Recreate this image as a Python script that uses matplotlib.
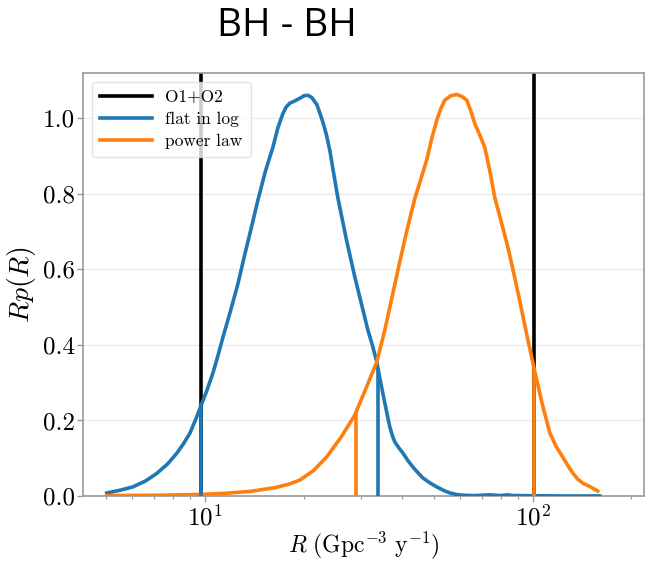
import numpy as np
import matplotlib
matplotlib.use("Agg")
import matplotlib.pyplot as plt

plt.rcParams['font.family'] = 'serif'
plt.rcParams['font.serif'] = ['cmr10', 'DejaVu Serif']
plt.rcParams['mathtext.fontset'] = 'cm'
plt.rcParams['axes.formatter.use_mathtext'] = True

# flat in log (blue)
R_flat = [5.02, 5.5, 6.03, 6.6, 7.14, 7.7, 8.21, 8.6, 9.0, 9.35, 9.7, 10.1, 10.58,
          10.95, 11.35, 11.92, 12.6, 13.24, 13.9, 14.51, 15.3, 16.12, 16.7, 17.29,
          17.7, 18.16, 18.8, 19.48, 20.1, 20.61, 21.2, 21.96, 22.4, 22.9, 23.5,
          24.05, 24.7, 25.44, 27.0, 28.66, 30.0, 31.4, 32.4, 33.45, 34.2, 34.89,
          35.8, 36.64, 37.3, 37.96, 39.0, 40.15, 41.5, 43.06, 44.6, 46.19, 48.5,
          50.98, 53.4, 55.85, 58.5, 61.2, 66.5, 70.0, 73.9, 79.3, 83.9, 87.0,
          91.2, 120.8, 160.0]
p_flat = [0.008, 0.015, 0.024, 0.04, 0.06, 0.085, 0.113, 0.138, 0.166, 0.2, 0.236,
          0.275, 0.325, 0.37, 0.42, 0.484, 0.56, 0.64, 0.715, 0.783, 0.86, 0.923,
          0.975, 1.012, 1.03, 1.04, 1.046, 1.053, 1.06, 1.061, 1.055, 1.036, 1.015,
          0.99, 0.955, 0.915, 0.855, 0.79, 0.68, 0.58, 0.51, 0.44, 0.40, 0.355,
          0.31, 0.272, 0.225, 0.183, 0.16, 0.143, 0.128, 0.114, 0.095, 0.077, 0.062,
          0.048, 0.035, 0.024, 0.015, 0.008, 0.004, 0.002, 0.001, 0.002, 0.003,
          0.001, 0.003, 0.001, 0.001, 0.0, 0.0]

# power law (orange)
R_pow = [5.02, 7.29, 9.65, 11.5, 13.7, 16.35, 18.0, 19.48, 21.5, 23.5, 26.0, 28.66,
         31.0, 33.45, 35.4, 37.3, 39.3, 41.5, 43.7, 45.6, 47.5, 49.3, 50.98, 52.4,
         53.9, 56.3, 58.7, 60.8, 62.9, 64.7, 66.5, 69.0, 71.4, 74.0, 76.6, 80.2,
         83.9, 87.5, 91.2, 96.0, 101.4, 106.8, 112.7, 118.0, 123.5, 128.0, 132.4,
         137.0, 142.1, 150.0, 157.8]
p_pow = [0.001, 0.002, 0.004, 0.007, 0.012, 0.022, 0.031, 0.042, 0.068, 0.103, 0.155,
         0.214, 0.285, 0.355, 0.44, 0.53, 0.62, 0.71, 0.788, 0.84, 0.89, 0.95, 0.995,
         1.025, 1.048, 1.06, 1.063, 1.058, 1.048, 1.02, 0.987, 0.955, 0.923, 0.86,
         0.79, 0.725, 0.66, 0.59, 0.518, 0.425, 0.33, 0.245, 0.167, 0.13, 0.103,
         0.08, 0.061, 0.045, 0.034, 0.024, 0.013]

# 90% intervals
o1o2_bounds = [9.7, 101.0]
flat_bounds = [9.7, 33.7]
pow_bounds = [28.9, 101.0]

blue = '#1f77b4'
orange = '#ff7f0e'

fig = plt.figure(figsize=(6.46, 5.61), dpi=100)
ax = fig.add_axes([0.1285, 0.1159, 0.868, 0.754])

for b in o1o2_bounds:
    ax.axvline(b, color='black', lw=2.6, zorder=2)
ax.plot([], [], color='black', lw=2.6, label='O1+O2')

ax.plot(R_flat, p_flat, color=blue, lw=2.6, label='flat in log', zorder=3,
        solid_joinstyle='round')
ax.plot(R_pow, p_pow, color=orange, lw=2.6, label='power law', zorder=3,
        solid_joinstyle='round')

for b in flat_bounds:
    h = np.interp(np.log10(b), np.log10(R_flat), p_flat)
    ax.vlines(b, 0, h, color=blue, lw=2.6, zorder=3)
for b in pow_bounds:
    h = np.interp(np.log10(b), np.log10(R_pow), p_pow)
    ax.vlines(b, 0, h, color=orange, lw=2.6, zorder=3)

ax.set_xscale('log')
ax.set_xlim(4.25, 218)
ax.set_ylim(0, 1.12)
ax.set_yticks([0.0, 0.2, 0.4, 0.6, 0.8, 1.0])
ax.set_yticklabels(['0.0', '0.2', '0.4', '0.6', '0.8', '1.0'])
ax.yaxis.grid(True, color='#ebebeb', lw=1)
ax.set_axisbelow(True)

for s in ax.spines.values():
    s.set_color('#999999')
    s.set_linewidth(1.2)
ax.tick_params(axis='both', which='major', labelsize=18, color='#999999',
               length=4, width=1, pad=2)
ax.tick_params(axis='x', which='minor', color='#999999', length=2.5, width=0.8)

ax.set_xlabel(r'$R\ (\mathrm{Gpc}^{-3}\ \mathrm{y}^{-1})$', fontsize=17, labelpad=0)
ax.set_ylabel(r'$Rp(R)$', fontsize=20, labelpad=3)

leg = ax.legend(loc='upper left', fontsize=12.5, handlelength=3.0,
                frameon=True, framealpha=0.8, edgecolor='#dddddd',
                borderpad=0.45, labelspacing=0.4)

fig.text(0.444, 0.953, 'BH - BH', fontsize=28, family='Open Sans',
         ha='center', va='center')

fig.savefig('out.png', dpi=100)
